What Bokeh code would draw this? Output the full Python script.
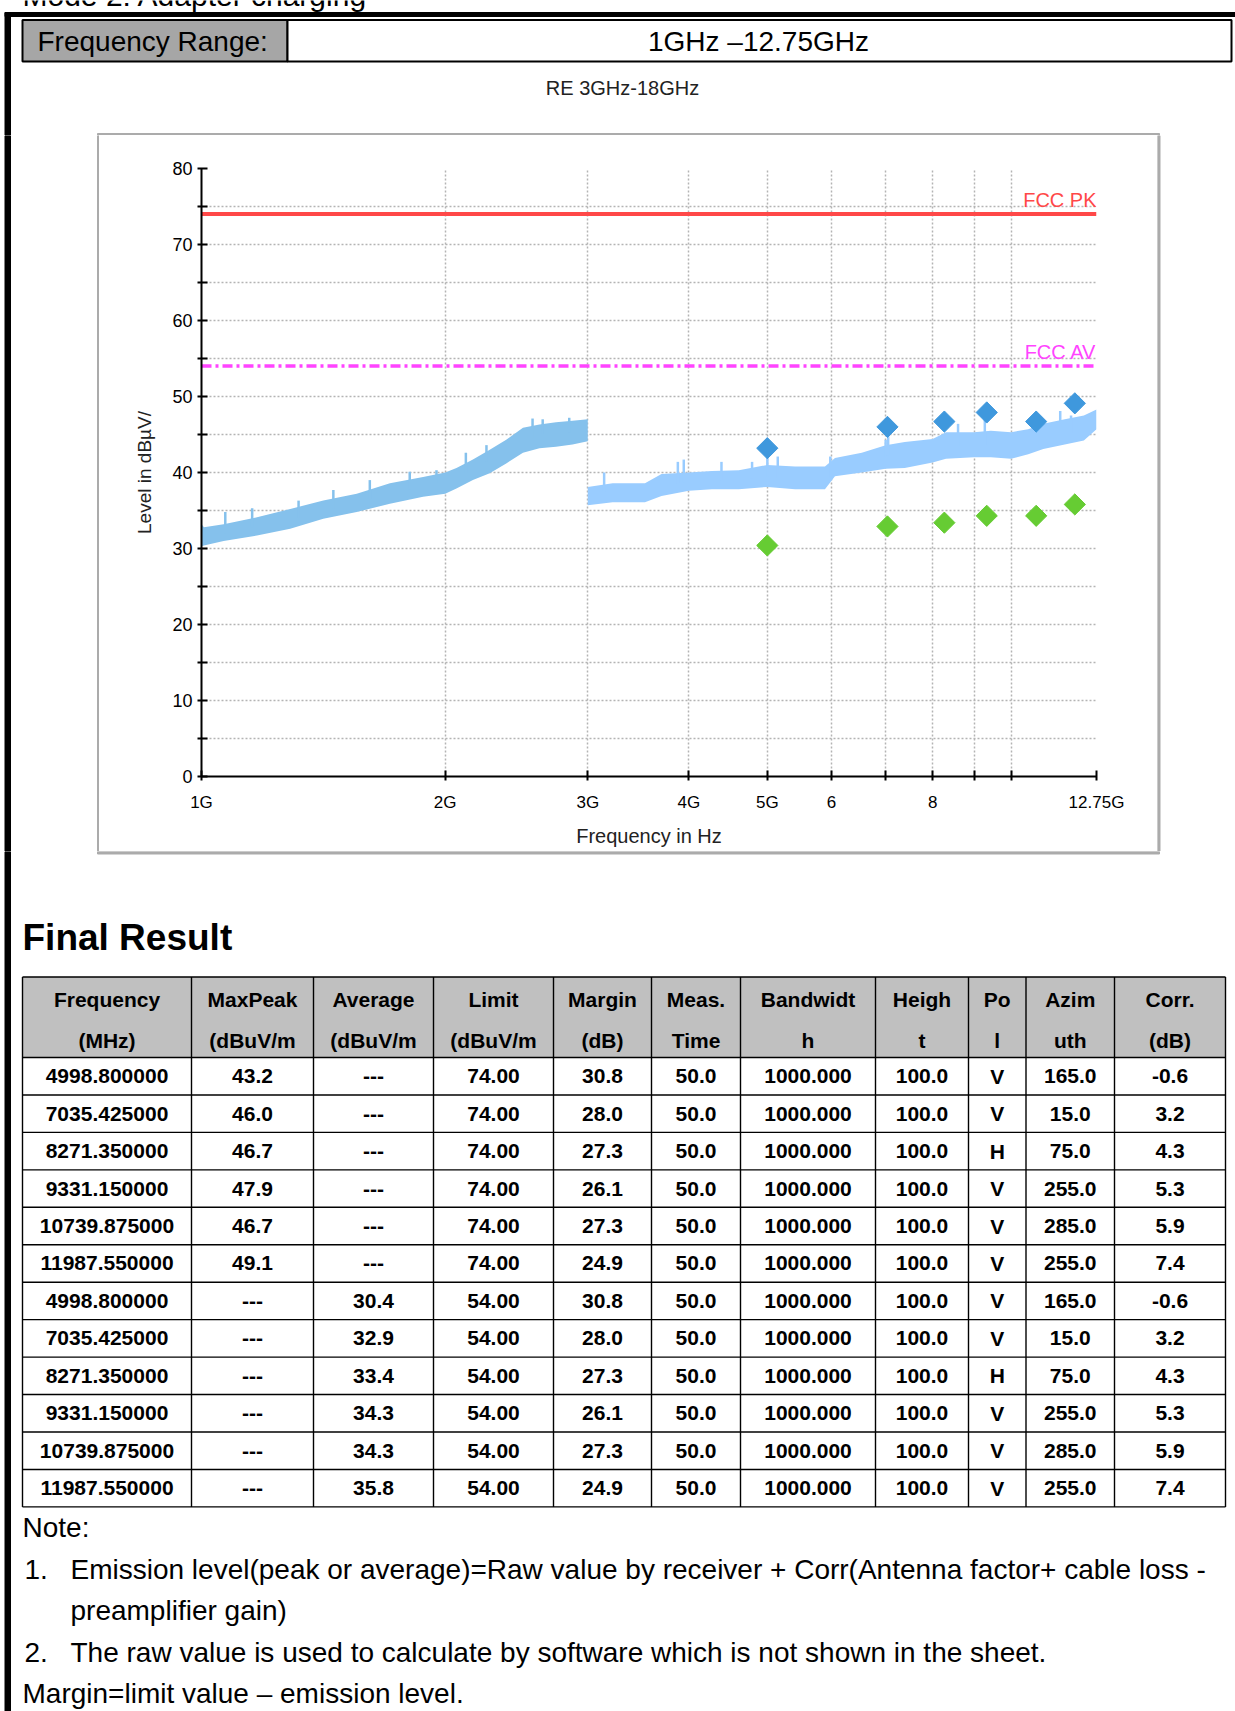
import numpy as np
from bokeh.plotting import figure
from bokeh.layouts import column, row
from bokeh.models import Range1d, FixedTicker, CustomJSTickFormatter
from bokeh.core.properties import value
from bokeh.embed import file_html
from bokeh.resources import INLINE

# ---------------- texts ----------------
mode_label = "Mode 2:  Adapter charging"
range_label = "Frequency Range:"
range_value = "1GHz \u201312.75GHz"
chart_title = "RE 3GHz-18GHz"
x_label = "Frequency in Hz"
y_label = "Level in dB\u00b5V/"
pk_label = "FCC PK"
av_label = "FCC AV"
section_title = "Final Result"

# ---------------- axes ----------------
x_tick_ghz = [1, 2, 3, 4, 5, 6, 7, 8, 9, 10, 12.75]
x_tick_labels = ["1G", "2G", "3G", "4G", "5G", "6", "", "8", "", "", "12.75G"]
y_ticks = [0, 5, 10, 15, 20, 25, 30, 35, 40, 45, 50, 55, 60, 65, 70, 75, 80]
y_tick_labels = ["0", "", "10", "", "20", "", "30", "", "40", "", "50", "", "60", "", "70", "", "80"]

# ---------------- limits ----------------
limit_x_ghz = [1.0, 12.75]
limit_pk = [74.0, 74.0]
limit_av = [54.0, 54.0]

# ---------------- spectrum envelope ----------------
seg1_ghz = [1.0, 1.007, 1.065, 1.171, 1.287, 1.414, 1.555, 1.709, 1.878, 2.0, 2.065, 2.164, 2.27, 2.379, 2.495, 2.615, 2.741, 2.873, 3.0]
seg1_hi = [33.2, 32.8, 33.2, 34.1, 35.2, 36.3, 37.2, 38.6, 39.4, 40.0, 40.6, 41.7, 43.0, 44.3, 45.9, 46.3, 46.6, 46.8, 47.0]
seg1_lo = [30.3, 30.4, 31.0, 31.7, 32.6, 33.9, 34.8, 35.9, 36.8, 37.2, 37.9, 39.0, 39.9, 41.2, 42.6, 43.2, 43.4, 43.7, 44.1]

seg2_ghz = [3.0, 3.22, 3.53, 3.70, 4.0, 4.27, 4.61, 5.0, 5.41, 5.89, 6.06, 6.54, 7.0, 7.39, 8.0, 8.31, 9.0, 9.44, 10.0, 10.5, 10.96, 11.65, 12.3, 12.75]
seg2_hi = [38.1, 38.6, 38.6, 39.8, 40.0, 40.2, 40.3, 41.0, 40.8, 40.8, 41.9, 42.6, 43.6, 44.0, 44.4, 45.3, 45.3, 45.5, 45.3, 45.7, 46.4, 47.0, 47.5, 48.3]
seg2_lo = [35.7, 36.1, 36.1, 36.9, 37.6, 37.8, 37.8, 38.1, 37.8, 37.8, 39.5, 40.0, 40.5, 40.6, 41.3, 41.8, 42.0, 42.0, 41.8, 42.4, 43.1, 43.7, 44.2, 45.7]

spike1_ghz = [1.070, 1.155, 1.318, 1.455, 1.614, 1.808, 1.951, 2.121, 2.249, 2.564, 2.639, 2.846]
spike1_base = [32.0, 32.8, 34.0, 35.2, 36.5, 37.8, 38.5, 40.0, 41.5, 44.5, 45.0, 45.3]
spike1_top = [34.8, 35.3, 36.3, 37.7, 39.0, 40.1, 40.3, 42.6, 43.6, 47.1, 47.0, 47.2]

spike2_ghz = [3.143, 3.876, 3.942, 4.388, 4.787, 5.0, 5.15, 5.98, 7.0, 7.05, 8.6, 9.28, 11.5, 11.86]
spike2_base = [37.5, 38.6, 38.7, 39.0, 39.2, 39.5, 39.3, 39.3, 42.0, 42.2, 43.5, 43.6, 45.0, 45.2]
spike2_top = [40.0, 41.4, 41.7, 41.4, 41.4, 42.1, 42.1, 42.1, 44.3, 45.0, 46.4, 47.2, 48.1, 47.5]

# ---------------- final results ----------------
freq_mhz = [4998.8, 7035.425, 8271.35, 9331.15, 10739.875, 11987.55]
max_peak = [43.2, 46.0, 46.7, 47.9, 46.7, 49.1]
average = [30.4, 32.9, 33.4, 34.3, 34.3, 35.8]
margin = [30.8, 28.0, 27.3, 26.1, 27.3, 24.9]
meas_time = [50.0, 50.0, 50.0, 50.0, 50.0, 50.0]
bandwidth = [1000.0, 1000.0, 1000.0, 1000.0, 1000.0, 1000.0]
height = [100.0, 100.0, 100.0, 100.0, 100.0, 100.0]
pol = ["V", "V", "H", "V", "V", "V"]
azimuth = [165.0, 15.0, 75.0, 255.0, 285.0, 255.0]
corr = [-0.6, 3.2, 4.3, 5.3, 5.9, 7.4]
header_l1 = ["Frequency", "MaxPeak", "Average", "Limit", "Margin", "Meas.", "Bandwidt", "Heigh", "Po", "Azim", "Corr."]
header_l2 = ["(MHz)", "(dBuV/m", "(dBuV/m", "(dBuV/m", "(dB)", "Time", "h", "t", "l", "uth", "(dB)"]

notes = [
    ("", "Note:"),
    ("1.", "Emission level(peak or average)=Raw value by receiver + Corr(Antenna factor+ cable loss -"),
    ("", "preamplifier gain)"),
    ("2.", "The raw value is used to calculate by software which is not shown in the sheet."),
    ("", "Margin=limit value \u2013 emission level."),
]

SANS = "Liberation Sans"
BAR = dict(left=4.5, right=10)
FRAME_GRAY = "#ababab"
W, H = 1235, 1711


def page_fig(x0, x1, y0, y1):
    f = figure(width=int(round(x1 - x0)), height=int(round(y1 - y0)),
               x_range=Range1d(x0, x1), y_range=Range1d(y1, y0),
               output_backend="svg", toolbar_location=None, min_border=0,
               x_axis_location=None, y_axis_location=None,
               outline_line_color=None, background_fill_color="white",
               border_fill_color="white")
    f.grid.visible = False
    try:
        f.frame_align = False
    except Exception:
        pass
    return f


def txt(f, x, y, s, size, font=SANS, align="left", style="normal", color="black",
        baseline="middle"):
    f.text(x=[x], y=[y], text=[s], text_font=value(font), text_font_size=value(size),
           text_align=align, text_baseline=baseline, text_font_style=style,
           text_color=color)


# ---------------- header ----------------
hdr = page_fig(0, W, 0, 135)
txt(hdr, 22, -5, mode_label, "30px", baseline="alphabetic")
hdr.quad(left=[4.5], right=[W], top=[12], bottom=[16], color="black")
hdr.quad(top=[12], bottom=[135], color="black", **{k: [v] for k, v in BAR.items()})
hdr.quad(left=[22], right=[287], top=[19.5], bottom=[61], fill_color="#a6a6a6",
         line_color="black", line_width=2)
hdr.quad(left=[287], right=[1231], top=[19.5], bottom=[61], fill_color="white",
         line_color="black", line_width=2)
txt(hdr, 37, 40.5, range_label, "28px")
txt(hdr, 758, 40.5, range_value, "28px", align="center")
txt(hdr, 622, 87, chart_title, "20px", align="center", color="#222222")
hdr.quad(left=[97], right=[1159], top=[133], bottom=[135], color=FRAME_GRAY)

# ---------------- side pads ----------------
padL = page_fig(0, 99, 135, 851)
padL.quad(top=[135], bottom=[851], color="black", **{k: [v] for k, v in BAR.items()})
padL.quad(left=[97], right=[99], top=[135], bottom=[851], color=FRAME_GRAY)
padR = page_fig(1157, W, 135, 851)
padR.quad(left=[1157], right=[1159.5], top=[135], bottom=[851], color=FRAME_GRAY)

# ---------------- chart ----------------
G = 1e9
p = figure(width=1058, height=716, x_axis_type="log",
           x_range=Range1d(1.0 * G, 12.75 * G), y_range=Range1d(0, 80),
           output_backend="svg", toolbar_location=None,
           min_border_left=102, min_border_right=61, min_border_top=33,
           min_border_bottom=75, outline_line_color=None,
           background_fill_color="white", border_fill_color="white")
try:
    p.frame_align = False
except Exception:
    pass

x_ticks = [v * G for v in x_tick_ghz]
p.xaxis.ticker = FixedTicker(ticks=x_ticks)
p.xaxis.formatter = CustomJSTickFormatter(
    args=dict(vals=x_ticks, labs=x_tick_labels),
    code="const i = vals.findIndex(v => Math.abs(v - tick) < 1e-6 * v); return i >= 0 ? labs[i] : '';")
p.yaxis.ticker = FixedTicker(ticks=y_ticks)
p.yaxis.formatter = CustomJSTickFormatter(
    args=dict(vals=y_ticks, labs=y_tick_labels),
    code="const i = vals.findIndex(v => Math.abs(v - tick) < 1e-6); return i >= 0 ? labs[i] : '';")

for ax in (p.xaxis, p.yaxis):
    ax.axis_line_width = 2
    ax.axis_line_color = "black"
    ax.major_tick_line_width = 2
    ax.major_tick_line_color = "black"
    ax.major_tick_in = 6
    ax.major_tick_out = 4
    ax.minor_tick_line_color = None
    ax.major_label_text_font = SANS
    ax.major_label_text_color = "black"
    ax.axis_label_text_font = SANS
    ax.axis_label_text_font_style = "normal"
    ax.axis_label_text_color = "#222222"

p.xaxis.major_label_text_font_size = "17px"
p.yaxis.major_label_text_font_size = "18px"
p.xaxis.axis_label = x_label
p.xaxis.axis_label_text_font_size = "20px"
p.xaxis.major_label_standoff = 12
p.xaxis.axis_label_standoff = 10
p.yaxis.axis_label = y_label
p.yaxis.axis_label_text_font_size = "19px"
p.yaxis.major_label_standoff = 5
p.yaxis.axis_label_standoff = 14

for g in (p.xgrid, p.ygrid):
    g.grid_line_color = "#b4b4b4"
    g.grid_line_dash = "2 2"
    g.grid_line_width = 1.5

# spectrum
p.varea(x=[v * G for v in seg1_ghz], y1=seg1_lo, y2=seg1_hi, fill_color="#85c1ec")
p.segment(x0=[v * G for v in spike1_ghz], y0=spike1_base, x1=[v * G for v in spike1_ghz],
          y1=spike1_top, line_color="#85c1ec", line_width=2.5)
p.varea(x=[v * G for v in seg2_ghz], y1=seg2_lo, y2=seg2_hi, fill_color="#99ccff")
p.segment(x0=[v * G for v in spike2_ghz], y0=spike2_base, x1=[v * G for v in spike2_ghz],
          y1=spike2_top, line_color="#99ccff", line_width=2.5)

# limits
lx = [v * G for v in limit_x_ghz]
p.line(lx, limit_pk, line_color="#ff4848", line_width=4)
p.line(lx, limit_av, line_color="#ff44ff", line_width=3.5, line_dash="10 4 3 4")
p.text(x=[lx[1]], y=[limit_pk[0]], text=[pk_label], text_font=value(SANS),
       text_font_size=value("20px"), text_align="right", text_baseline="bottom",
       text_color="#ff4848", y_offset=-3)
p.text(x=[lx[1]], y=[limit_av[0]], text=[av_label], text_font=value(SANS),
       text_font_size=value("20px"), text_align="right", text_baseline="bottom",
       text_color="#ff44ff", y_offset=-3)

# final measurement markers
fx = [f * 1e6 for f in freq_mhz]
p.scatter(fx, max_peak, marker="square", angle=np.pi / 4, size=15,
          fill_color="#3f98dd", line_color="#3f98dd")
p.scatter(fx, average, marker="square", angle=np.pi / 4, size=15,
          fill_color="#66cc33", line_color="#66cc33")

# ---------------- table & notes ----------------
t = page_fig(0, W, 851, H)
t.quad(top=[851], bottom=[H], color="black", **{k: [v] for k, v in BAR.items()})
t.quad(left=[97], right=[1159], top=[851], bottom=[853.5], color=FRAME_GRAY)
txt(t, 22, 937, section_title, "37px", style="bold")

col_edges = [22, 191, 313, 433, 553, 651, 740, 875, 968, 1025.5, 1114, 1225]
tbl_top = 976.5
hdr_bot = 1057.0
row_h = 37.45
n_rows = 2 * len(freq_mhz)
row_edges = [hdr_bot + i * row_h for i in range(n_rows + 1)]
tbl_bot = row_edges[-1]
centers = [(a + b) / 2 for a, b in zip(col_edges[:-1], col_edges[1:])]

t.quad(left=[col_edges[0]], right=[col_edges[-1]], top=[tbl_top], bottom=[hdr_bot],
       fill_color="#c0c0c0", line_color=None)
hy = [tbl_top] + row_edges
t.multi_line(xs=[[col_edges[0], col_edges[-1]] for _ in hy], ys=[[y, y] for y in hy],
             line_color="black", line_width=1.4)
t.multi_line(xs=[[x, x] for x in col_edges], ys=[[tbl_top, tbl_bot] for _ in col_edges],
             line_color="black", line_width=1.4)

TB = dict(text_font=value(SANS), text_font_size=value("21px"), text_font_style="bold",
          text_align="center", text_baseline="middle", text_color="black")
t.text(x=centers, y=[999] * len(centers), text=header_l1, **TB)
t.text(x=centers, y=[1040] * len(centers), text=header_l2, **TB)

rows = []
for i in range(len(freq_mhz)):
    rows.append([f"{freq_mhz[i]:.6f}", f"{max_peak[i]:.1f}", "---", f"{limit_pk[0]:.2f}",
                 f"{margin[i]:.1f}", f"{meas_time[i]:.1f}", f"{bandwidth[i]:.3f}",
                 f"{height[i]:.1f}", pol[i], f"{azimuth[i]:.1f}", f"{corr[i]:.1f}"])
for i in range(len(freq_mhz)):
    rows.append([f"{freq_mhz[i]:.6f}", "---", f"{average[i]:.1f}", f"{limit_av[0]:.2f}",
                 f"{margin[i]:.1f}", f"{meas_time[i]:.1f}", f"{bandwidth[i]:.3f}",
                 f"{height[i]:.1f}", pol[i], f"{azimuth[i]:.1f}", f"{corr[i]:.1f}"])

cx, cy, ct = [], [], []
for r, cells in enumerate(rows):
    yc = hdr_bot + (r + 0.5) * row_h
    for c, s in enumerate(cells):
        cx.append(centers[c]); cy.append(yc); ct.append(s)
t.text(x=cx, y=cy, text=ct, **TB)

note_y = [1527, 1569, 1610, 1652, 1693]
NS = "28px"
for (num, line), y in zip(notes, note_y):
    if num:
        txt(t, 24, y, num, NS)
        txt(t, 70, y, line, NS)
    elif line.startswith("preamp"):
        txt(t, 70, y, line, NS)
    else:
        txt(t, 22, y, line, NS)

layout = column(hdr, row(padL, p, padR), t)
open("out.html", "w").write(file_html(layout, INLINE))
